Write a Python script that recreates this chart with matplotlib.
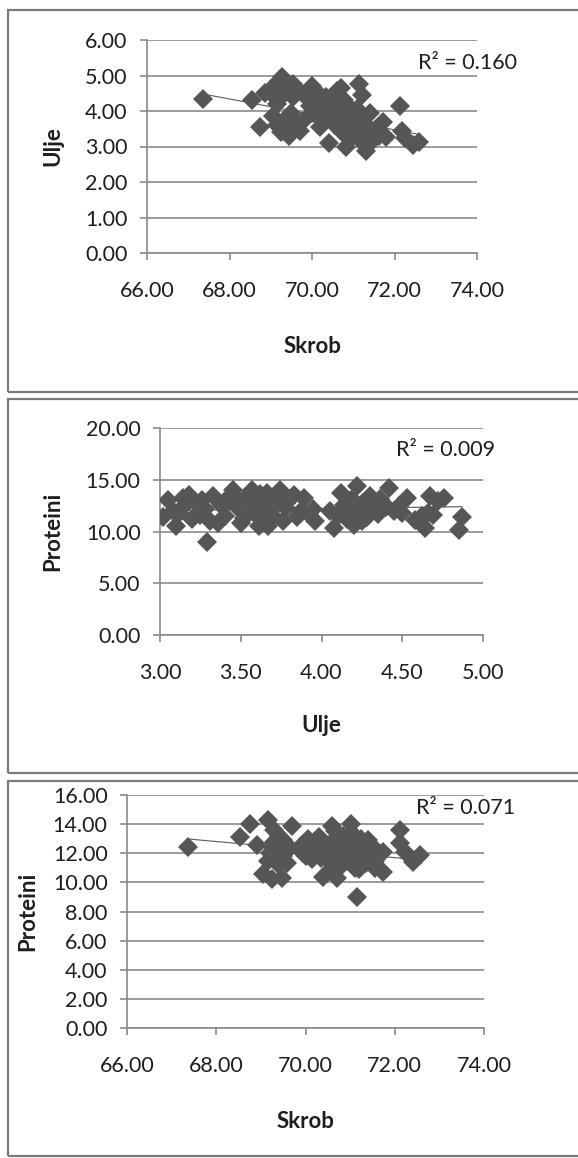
import numpy as np
import matplotlib
matplotlib.use("Agg")
import matplotlib.pyplot as plt
from matplotlib.patches import Rectangle

plt.rcParams["font.family"] = ["Lato", "DejaVu Sans"]

# ---- panel 1: Ulje vs Skrob ----
skrob_1 = [67.35, 68.55, 68.75, 68.85, 69.00, 69.10, 69.20, 69.28, 69.35, 69.45,
           69.55, 69.65, 69.15, 69.05, 69.15, 69.25, 69.35, 69.45, 69.50, 69.60,
           69.70, 69.75, 69.90, 70.00, 70.05, 70.10, 70.15, 70.20, 70.25, 70.30,
           70.35, 70.40, 70.45, 70.50, 70.55, 70.60, 70.65, 70.70, 70.72, 70.78,
           70.82, 70.85, 70.90, 70.95, 71.00, 71.05, 71.10, 71.15, 71.18, 71.20,
           71.25, 71.30, 71.35, 71.40, 71.45, 71.55, 71.62, 71.72, 71.80, 72.13,
           72.18, 72.25, 72.45, 72.60,
           69.30, 69.40, 69.55, 69.25, 69.60, 69.95, 70.10, 70.30, 70.45, 70.60,
           70.75, 70.90, 71.05, 71.20, 70.20, 70.50, 70.80, 71.00, 71.30, 70.00]
ulje_1 = [4.35, 4.30, 3.56, 4.50, 4.62, 4.40, 4.85, 4.95, 4.70, 4.55,
          4.75, 4.60, 4.20, 3.85, 3.60, 3.40, 3.75, 3.30, 3.95, 3.55,
          3.45, 3.70, 4.35, 4.70, 4.10, 3.90, 4.45, 4.25, 3.75, 4.05,
          4.40, 3.10, 3.85, 4.20, 3.60, 4.55, 3.95, 4.65, 3.40, 4.30,
          3.00, 3.70, 4.10, 3.25, 3.85, 3.50, 4.05, 4.75, 3.15, 4.45,
          3.65, 2.88, 3.40, 3.95, 3.15, 3.50, 3.30, 3.70, 3.28, 4.14,
          3.45, 3.25, 3.05, 3.14,
          4.45, 4.80, 4.40, 3.60, 3.70, 4.15, 4.55, 4.35, 4.20, 4.00,
          3.95, 3.55, 3.75, 3.85, 3.55, 3.80, 3.50, 3.35, 3.60, 3.95]

# ---- panel 2: Proteini vs Ulje ----
ulje_2 = [3.05, 3.02, 3.10, 3.18, 3.29, 3.33, 3.36, 3.45, 3.50, 3.57,
          3.61, 3.66, 3.67, 3.74, 3.83, 3.85, 3.89, 3.95, 3.96, 4.08,
          4.12, 4.22, 4.20, 4.30, 4.28, 4.42, 4.40, 4.53, 4.58, 4.64,
          4.67, 4.69, 4.76, 4.85, 4.87,
          3.08, 3.12, 3.15, 3.20, 3.22, 3.25, 3.28, 3.31, 3.38, 3.40,
          3.42, 3.48, 3.52, 3.55, 3.58, 3.60, 3.63, 3.65, 3.68, 3.70,
          3.72, 3.76, 3.78, 3.80, 3.87, 3.92, 4.05, 4.10, 4.14, 4.16,
          4.18, 4.22, 4.25, 4.26, 4.32, 4.35, 4.38, 4.45, 4.48, 4.50,
          4.62, 4.66, 4.72,
          3.44, 3.53, 3.62, 3.71, 4.20, 4.29, 4.36, 3.14, 3.26]
proteini_2 = [13.0, 11.4, 10.5, 13.5, 9.0, 13.4, 10.8, 14.0, 10.8, 14.0,
              10.5, 13.7, 10.5, 14.0, 13.5, 11.4, 13.2, 12.2, 11.0, 10.3,
              13.7, 14.4, 10.6, 13.4, 11.4, 14.2, 12.4, 13.2, 11.1, 10.3,
              13.4, 11.6, 13.2, 10.1, 11.4,
              12.0, 11.8, 12.5, 11.2, 12.8, 11.6, 12.2, 11.0, 12.6, 11.5,
              13.0, 12.3, 11.3, 12.9, 11.8, 12.5, 11.2, 13.1, 12.0, 11.5,
              12.7, 11.0, 12.3, 13.0, 12.0, 11.7, 12.0, 11.5, 12.6, 11.2,
              13.0, 12.0, 11.0, 12.8, 12.2, 11.7, 12.8, 12.0, 12.5, 11.8,
              11.5, 11.8, 12.9,
              13.5, 13.3, 13.6, 13.4, 12.9, 12.6, 13.1, 13.2, 13.0]

# ---- panel 3: Proteini vs Skrob ----
skrob_3 = [67.37, 68.53, 68.76, 69.17, 68.91, 69.05, 69.24, 69.47, 69.69, 69.58,
           70.40, 70.59, 70.70, 71.03, 71.15, 71.41, 71.74, 71.74, 72.12, 72.12,
           72.23, 72.42, 72.57, 70.03,
           69.20, 69.30, 69.35, 69.40, 69.45, 69.50, 69.30, 69.25, 69.40, 69.55,
           69.90, 70.00, 70.05, 70.10, 70.15, 70.20, 70.25, 70.30, 70.35, 70.45,
           70.50, 70.55, 70.60, 70.65, 70.70, 70.75, 70.80, 70.85, 70.90, 70.95,
           71.00, 71.05, 71.10, 71.15, 71.20, 71.25, 71.30, 71.35, 71.45, 71.50,
           71.55, 71.60,
           69.15, 69.35, 69.50, 69.60, 69.95, 70.15, 70.35, 70.55, 70.75, 70.95,
           71.10, 71.30, 71.55, 70.85, 71.20, 70.60]
proteini_3 = [12.4, 13.1, 14.0, 14.3, 12.6, 10.6, 10.2, 10.3, 13.9, 11.3,
              10.4, 13.9, 10.3, 14.0, 9.0, 12.9, 12.1, 10.7, 13.6, 12.7,
              12.1, 11.4, 11.9, 12.8,
              12.0, 12.8, 11.5, 13.2, 12.3, 11.8, 13.6, 12.5, 11.2, 12.7,
              12.5, 11.8, 13.0, 12.2, 11.6, 12.8, 12.0, 13.1, 11.7, 12.5,
              12.0, 11.4, 12.8, 13.5, 11.9, 12.4, 11.1, 13.2, 12.1, 11.5,
              12.7, 13.4, 11.0, 12.3, 11.7, 13.0, 12.0, 11.3, 11.8, 12.5,
              11.0, 12.0,
              11.5, 12.1, 12.9, 12.2, 12.0, 12.4, 12.6, 12.2, 11.6, 12.9,
              12.6, 11.6, 11.5, 12.3, 10.9, 11.0]

# linear trendlines: value at left and right end of data
trend_1 = [4.48, 3.34]
trend_2 = [12.00, 12.40]
trend_3 = [12.98, 11.54]

r2_labels = ["R\u00b2 = 0.160", "R\u00b2 = 0.009", "R\u00b2 = 0.071"]

W, H = 578, 1158
GRAY = "#8a8a8a"
MARK = "#565656"
TXT = "#1e1e1e"


def fx(px):
    return px / W


def fy(py):
    return 1 - py / H


fig = plt.figure(figsize=(W / 100, H / 100), dpi=100)
fig.patch.set_facecolor("white")

# panel frames (top, bottom in pixels)
for top, bot in [(10, 392), (399, 773), (781, 1156)]:
    fig.add_artist(Rectangle((fx(8), fy(bot)), fx(590) - fx(8), fy(top) - fy(bot),
                             transform=fig.transFigure, fill=False,
                             edgecolor="#7a7a7a", linewidth=1.6))


def panel(rect, x, y, trend, xlim, xticks, ylim, yticks, xlabel, ylabel,
          xlab_y, ylab_x, r2, r2_pos):
    ax = fig.add_axes(rect)
    x = np.asarray(x)
    ax.plot([x.min(), x.max()], trend, color="#5a5a5a", lw=0.8, zorder=2)
    ax.plot(x, y, linestyle="none", marker="D", ms=10, color=MARK,
            markeredgewidth=0, zorder=3)

    ax.set_xlim(*xlim)
    ax.set_ylim(*ylim)
    ax.set_xticks(xticks)
    ax.set_yticks(yticks)
    ax.xaxis.set_major_formatter("{x:.2f}")
    ax.yaxis.set_major_formatter("{x:.2f}")
    ax.grid(axis="y", color=GRAY, lw=1.2)
    ax.set_axisbelow(True)
    for s in ["top", "right"]:
        ax.spines[s].set_visible(False)
    for s in ["left", "bottom"]:
        ax.spines[s].set_color(GRAY)
        ax.spines[s].set_linewidth(1.2)
    ax.tick_params(axis="both", direction="out", length=5, width=1.2,
                   color=GRAY, labelsize=15.5, labelcolor=TXT)
    ax.tick_params(axis="x", pad=15)
    ax.tick_params(axis="y", pad=9)
    ax.set_xlabel(xlabel, fontsize=16, fontweight="bold", color=TXT, va="center")
    ax.set_ylabel(ylabel, fontsize=16, fontweight="bold", color=TXT, va="center")
    ax.xaxis.set_label_coords(0.5, xlab_y)
    ax.yaxis.set_label_coords(ylab_x, 0.5)
    fig.text(fx(r2_pos[0]), fy(r2_pos[1]), r2, fontsize=15.5, color=TXT,
             ha="center", va="center")
    return ax


panel([fx(147), fy(253), (477 - 147) / W, (253 - 40) / H],
      skrob_1, ulje_1, trend_1, (66, 74), [66, 68, 70, 72, 74], (0, 6), range(0, 7),
      "Skrob", "Ulje", -0.44, -0.285, r2_labels[0], (467, 63))

panel([fx(160), fy(635), (483 - 160) / W, (635 - 428) / H],
      ulje_2, proteini_2, trend_2, (3, 5), [3, 3.5, 4, 4.5, 5], (0, 20),
      [0, 5, 10, 15, 20],
      "Ulje", "Proteini", -0.435, -0.331, r2_labels[1], (446, 450))

panel([fx(127), fy(1028), (484 - 127) / W, (1028 - 795) / H],
      skrob_3, proteini_3, trend_3, (66, 74), [66, 68, 70, 72, 74], (0, 16),
      range(0, 17, 2),
      "Skrob", "Proteini", -0.403, -0.277, r2_labels[2], (466, 808))

fig.savefig("out.png", dpi=100)
